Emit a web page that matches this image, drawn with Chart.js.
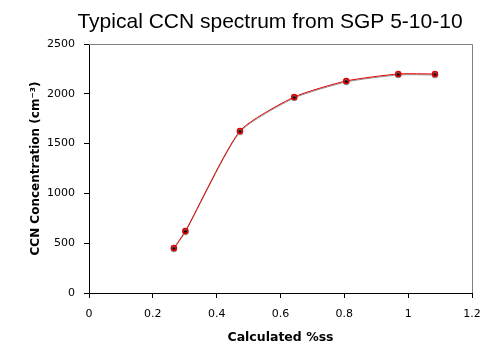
<!DOCTYPE html>
<html>
<head>
<meta charset="utf-8">
<script src="https://cdn.jsdelivr.net/npm/chart.js@4/dist/chart.umd.min.js"></script>
<style>
html,body{margin:0;padding:0;background:#fff;}
#wrap{width:497px;height:348px;position:relative;}
</style>
</head>
<body>
<div id="wrap"><canvas id="c" width="497" height="348"></canvas></div>
<script>
const chartTitle = "Typical CCN spectrum from SGP 5-10-10";
const xAxisTitle = "Calculated %ss";
const yAxisTitle = "CCN Concentration (cm\u207B\u00B3)";
const supersat = [0.266, 0.302, 0.473, 0.643, 0.806, 0.969, 1.084];
const ccnConc  = [452, 622, 1627, 1968, 2129, 2199, 2199];
const xTicks = [0, 0.2, 0.4, 0.6, 0.8, 1, 1.2];
const yTicks = [0, 500, 1000, 1500, 2000, 2500];

const points = supersat.map((x, i) => ({x: x, y: ccnConc[i]}));

const titlePlugin = {
  id: 'topTitle',
  afterDraw(chart) {
    const ctx = chart.ctx;
    ctx.save();
    ctx.font = '21px "Liberation Sans", Arial, sans-serif';
    ctx.fillStyle = '#000';
    ctx.textAlign = 'center';
    ctx.textBaseline = 'alphabetic';
    ctx.fillText(chartTitle, 270, 28);
    ctx.restore();
  }
};
const borderPlugin = {
  id: 'frame',
  beforeDatasetsDraw(chart) {
    const a = chart.chartArea, ctx = chart.ctx;
    ctx.save();
    ctx.strokeStyle = '#808080';
    ctx.lineWidth = 1;
    ctx.beginPath();
    ctx.moveTo(a.left, a.top + 0.5);
    ctx.lineTo(a.right + 0.5, a.top + 0.5);
    ctx.lineTo(a.right + 0.5, a.bottom);
    ctx.stroke();
    ctx.restore();
  }
};
const shadowPlugin = {
  id: 'lineShadow',
  beforeDatasetDraw(chart) {
    const ctx = chart.ctx;
    ctx.save();
    ctx.shadowColor = 'rgba(128,128,128,0.85)';
    ctx.shadowOffsetX = 0;
    ctx.shadowOffsetY = 1;
    ctx.shadowBlur = 0;
  },
  afterDatasetDraw(chart) {
    chart.ctx.restore();
  }
};

new Chart(document.getElementById('c'), {
  type: 'scatter',
  data: {
    datasets: [{
      data: points,
      showLine: true,
      borderColor: '#e00000',
      borderWidth: 1,
      tension: 0.2,
      pointRadius: 2.5,
      pointBackgroundColor: '#000',
      pointBorderColor: '#e00000',
      pointBorderWidth: 1.5
    }]
  },
  options: {
    responsive: false,
    animation: false,
    devicePixelRatio: 1,
    layout: {padding: {top: 44, right: 25, left: 0, bottom: 0}},
    plugins: {legend: {display: false}, tooltip: {enabled: false}, title: {display: false}},
    scales: {
      x: {
        type: 'linear',
        min: 0, max: 1.2,
        afterFit(s) { s.height = 55; },
        afterBuildTicks(s) { s.ticks = xTicks.map(v => ({value: v})); },
        ticks: {
          font: {family: '"DejaVu Sans", Verdana, sans-serif', size: 11},
          color: '#000', padding: 10, maxRotation: 0,
          callback: v => String(v)
        },
        grid: {display: true, drawOnChartArea: false, drawTicks: true, tickLength: 5, color: '#000'},
        border: {display: true, color: '#000', width: 1},
        title: {display: true, text: xAxisTitle, color: '#000',
          font: {family: '"DejaVu Sans", Verdana, sans-serif', size: 12.5, weight: 'bold'},
          padding: {top: 0, bottom: 3}}
      },
      y: {
        type: 'linear',
        min: 0, max: 2500,
        afterFit(s) { s.width = 89; },
        afterBuildTicks(s) { s.ticks = yTicks.map(v => ({value: v})); },
        ticks: {
          font: {family: '"DejaVu Sans", Verdana, sans-serif', size: 11},
          color: '#000', padding: 9,
          callback: v => String(v)
        },
        grid: {display: true, drawOnChartArea: false, drawTicks: true, tickLength: 5, color: '#000'},
        border: {display: true, color: '#000', width: 1},
        title: {display: true, text: yAxisTitle, color: '#000',
          font: {family: '"DejaVu Sans", Verdana, sans-serif', size: 12, weight: 'bold'},
          padding: {top: 29, bottom: 0}}
      }
    }
  },
  plugins: [titlePlugin, borderPlugin, shadowPlugin]
});
</script>
</body>
</html>
